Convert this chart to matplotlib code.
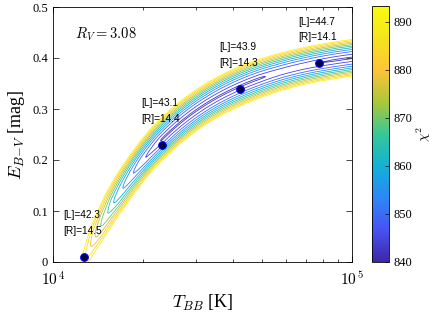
import numpy as np
import matplotlib
matplotlib.use("Agg")
import matplotlib.pyplot as plt
from matplotlib.colors import LinearSegmentedColormap, Normalize
from matplotlib.cm import ScalarMappable
from matplotlib.ticker import NullFormatter

plt.rcParams['mathtext.fontset'] = 'cm'
plt.rcParams['font.family'] = 'Liberation Serif'

# best-fit points
T_pts = np.array([1.27e4, 2.32e4, 4.22e4, 7.76e4])
E_pts = np.array([0.01, 0.23, 0.34, 0.39])
L_vals = ["42.3", "43.1", "43.9", "44.7"]
R_vals = ["14.5", "14.4", "14.3", "14.1"]

# centre line of the chi2 valley
T_valley = np.array([1.28e4, 1.41e4, 1.64e4, 1.97e4, 2.24e4, 3.10e4, 4.56e4, 1.0e5])
E_valley = np.array([0.0, 0.063, 0.127, 0.194, 0.231, 0.308, 0.347, 0.401])

# lowest chi2 along the valley and valley half width (pixels to the 890 line), by E
E_tab = np.array([-0.05, 0.0, 0.03, 0.06, 0.10, 0.12, 0.15, 0.18, 0.20, 0.225, 0.24,
                  0.36, 0.372, 0.385, 0.395, 0.45])
chi_tab = np.array([905, 886, 880, 872, 864, 859, 854, 849, 845.5, 843, 841.7,
                    841.7, 842.4, 842.4, 841.7, 841.7])
E_w = np.array([0.0, 0.2, 0.35, 0.45])
w_tab = np.array([16.0, 14.5, 18.5, 18.0])
levels = [842, 845, 850, 855, 860, 865, 870, 875, 880, 885, 890]

# parula-like colormap
parula = LinearSegmentedColormap.from_list("parula", [
    (0.2422, 0.1504, 0.6603), (0.2810, 0.3228, 0.9579), (0.1786, 0.5289, 0.9682),
    (0.0689, 0.6948, 0.8394), (0.2161, 0.7843, 0.5923), (0.6720, 0.7793, 0.2227),
    (0.9970, 0.7659, 0.2199), (0.9598, 0.8949, 0.1132), (0.9763, 0.9831, 0.0538)])
norm = Normalize(840, 893.3)

# valley line E = a - b*exp(-c*u), u = log10(T) - 4 ; pick a by least squares
uv = np.log10(T_valley) - 4
best = None
for a in np.linspace(0.405, 0.6, 400):
    p = np.polyfit(uv, np.log(a - E_valley), 1)
    res = np.sum((a - np.exp(np.polyval(p, uv)) - E_valley) ** 2)
    if best is None or res < best[0]:
        best = (res, a, p)
_, a_fit, p_fit = best
u_r = np.linspace(0.05, 1.1, 700)
E_r = a_fit - np.exp(np.polyval(p_fit, u_r))

# chi2 surface, distances measured in plot pixels
u = np.linspace(0, 1, 320)
E = np.linspace(-0.02, 0.5, 320)
U, EE = np.meshgrid(u, E)
PX, PY = U * 299, EE * 510
dmin = np.full(U.shape, np.inf)
emin = np.zeros(U.shape)
for ui, ei in zip(u_r, E_r):
    d = np.hypot(PX - ui * 299, PY - ei * 510)
    m = d < dmin
    dmin[m] = d[m]
    emin[m] = ei
w = np.interp(emin, E_w, w_tab)
chi = np.interp(emin, E_tab, chi_tab) + 49 * (dmin / w) ** 1.65

fig = plt.figure(figsize=(4.36, 3.12), dpi=100)
ax = fig.add_axes([53/436, 50/312, 299/436, 255/312])
ax.contour(10 ** (4 + U), EE, chi, levels=levels, cmap=parula, norm=norm, linewidths=0.6)
ax.plot(T_pts, E_pts, 'o', ms=5.5, mfc=(0, 0, 0.25), mec='b', mew=0.8, zorder=5)
for t, e, l, r in zip(T_pts, E_pts, L_vals, R_vals):
    ax.annotate("[L]=%s\n[R]=%s" % (l, r), (t, e), xytext=(-15, 15), textcoords='offset points',
                fontsize=7.3, family='Liberation Sans', ha='left', va='bottom', linespacing=1.7)
ax.text(0.075, 0.895, r'$R_V = 3.08$', transform=ax.transAxes, fontsize=10.5, va='center')

ax.set_xscale('log')
ax.set_xlim(1e4, 1e5)
ax.set_ylim(0, 0.5)
ax.set_xticks([1e4, 1e5])
ax.set_xticklabels([r'$10^{\,4}$', r'$10^{\,5}$'])
ax.xaxis.set_minor_formatter(NullFormatter())
ax.set_yticks([0, 0.1, 0.2, 0.3, 0.4, 0.5])
ax.set_yticklabels(['0', '0.1', '0.2', '0.3', '0.4', '0.5'])
ax.tick_params(which='both', direction='in', top=True, right=True, labelsize=9, width=0.5)
ax.tick_params(axis='x', which='major', labelsize=11, pad=6)
ax.tick_params(which='major', length=4)
ax.tick_params(which='minor', length=2.5)
for s in ax.spines.values():
    s.set_linewidth(0.6)
ax.set_xlabel(r'$T_{BB}$ [K]', fontsize=13, labelpad=3)
ax.set_ylabel(r'$E_{B\!-\!V}$ [mag]', fontsize=13, labelpad=4)

cax = fig.add_axes([372/436, 50/312, 17/436, 256/312])
cb = fig.colorbar(ScalarMappable(norm=norm, cmap=parula), cax=cax)
cb.set_ticks([840, 850, 860, 870, 880, 890])
cb.ax.tick_params(labelsize=9, direction='in', length=3, width=0.5)
cb.outline.set_linewidth(0.6)
cb.set_label(r'$\chi^2$', fontsize=10, labelpad=1)

fig.savefig("out.png", dpi=100)
